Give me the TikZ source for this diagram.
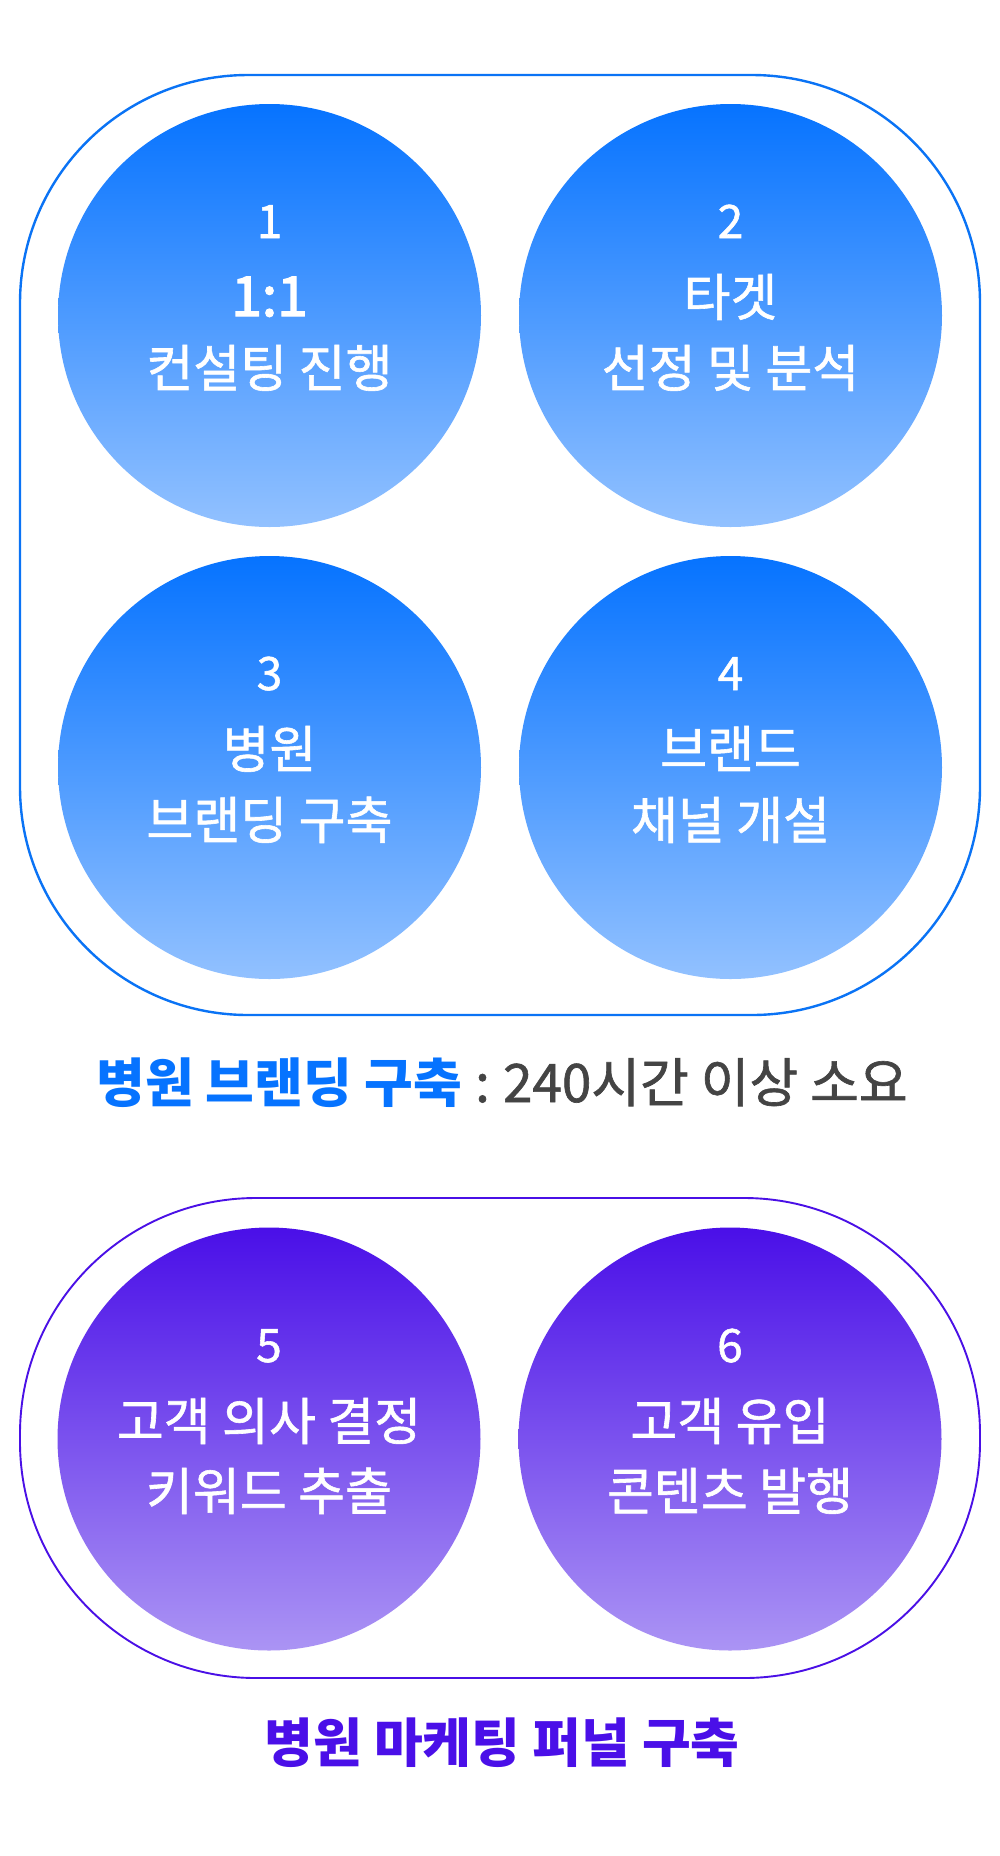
\documentclass[tikz,border=0pt]{standalone}
\usepackage{fontspec}
\newfontfamily\kr{Noto Sans CJK KR}
\newfontfamily\krm{Noto Sans CJK KR}[FakeBold=1.2]
\newfontfamily\krb{Noto Sans CJK KR}[FakeBold=2.6]
\definecolor{blueA}{HTML}{0673FF}
\definecolor{blueB}{HTML}{92C1FF}
\definecolor{blueLine}{HTML}{0A73F5}
\definecolor{purA}{HTML}{4A0FE8}
\definecolor{purB}{HTML}{AB94F4}
\definecolor{purLine}{HTML}{4A10E6}
\definecolor{greyT}{HTML}{444444}
\begin{document}
\begin{tikzpicture}[x=1pt,y=-1pt,
  bub/.style={circle, minimum size=423pt, inner sep=0pt, draw=none},
  bluebub/.style={bub, top color=blueA, bottom color=blueB},
  purbub/.style={bub, top color=purA, bottom color=purB},
  numtxt/.style={anchor=base, text=white, inner sep=0pt, font=\krm\fontsize{46}{46}\selectfont},
  bigtxt/.style={anchor=base, text=white, inner sep=0pt, font=\krb\fontsize{55}{55}\selectfont},
  maintxt/.style={anchor=base, text=white, inner sep=0pt, font=\krm\fontsize{51}{51}\selectfont},
  lbltxt/.style={anchor=base, inner sep=0pt, font=\kr\fontsize{53}{53}\selectfont}
]
\useasboundingbox (0,0) rectangle (1000,1856);
\fill[white] (0,0) rectangle (1000,1856);

% frames
\draw[blueLine, line width=2.4pt, rounded corners=228pt] (20,75) rectangle (980,1015);
\draw[purLine, line width=1.9pt, rounded corners=236pt] (20,1198) rectangle (980,1678);

% circles
\node[bluebub] (c1) at (269.5,315.5) {};
\node[bluebub] (c2) at (730.5,315.5) {};
\node[bluebub] (c3) at (269.5,767.5) {};
\node[bluebub] (c4) at (730.5,767.5) {};
\node[purbub] (c5) at (269,1439) {};
\node[purbub] (c6) at (730,1439) {};

% texts circle 1
\node[numtxt] (n1) at (269.5,238) {1};
\node[bigtxt] (a1) at (269.5,316) {1:1};
\node[maintxt] (b1) at (269.5,387) {컨설팅 진행};
% circle 2
\node[numtxt] (n2) at (730.5,238) {2};
\node[maintxt] (a2) at (730.5,316) {타겟};
\node[maintxt] (b2) at (730.5,387) {선정 및 분석};
% circle 3
\node[numtxt] (n3) at (269.5,690) {3};
\node[maintxt] (a3) at (269.5,768) {병원};
\node[maintxt] (b3) at (269.5,839) {브랜딩 구축};
% circle 4
\node[numtxt] (n4) at (730.5,690) {4};
\node[maintxt] (a4) at (730.5,768) {브랜드};
\node[maintxt] (b4) at (730.5,839) {채널 개설};
% circle 5
\node[numtxt] (n5) at (269,1362) {5};
\node[maintxt] (a5) at (269,1440) {고객 의사 결정};
\node[maintxt] (b5) at (269,1510) {키워드 추출};
% circle 6
\node[numtxt] (n6) at (730,1362) {6};
\node[maintxt] (a6) at (730,1440) {고객 유입};
\node[maintxt] (b6) at (730,1510) {콘텐츠 발행};

% labels
\node[lbltxt] (l1) at (502,1102) {\textcolor{blueA}{\bfseries 병원 브랜딩 구축}\hspace{0.25em}\textcolor{greyT}{\krm :\hspace{0.25em}240시간 이상 소요}};
\node[lbltxt, text=purA] (l2) at (502,1762) {\bfseries 병원 마케팅 퍼널 구축};
\end{tikzpicture}
\end{document}
